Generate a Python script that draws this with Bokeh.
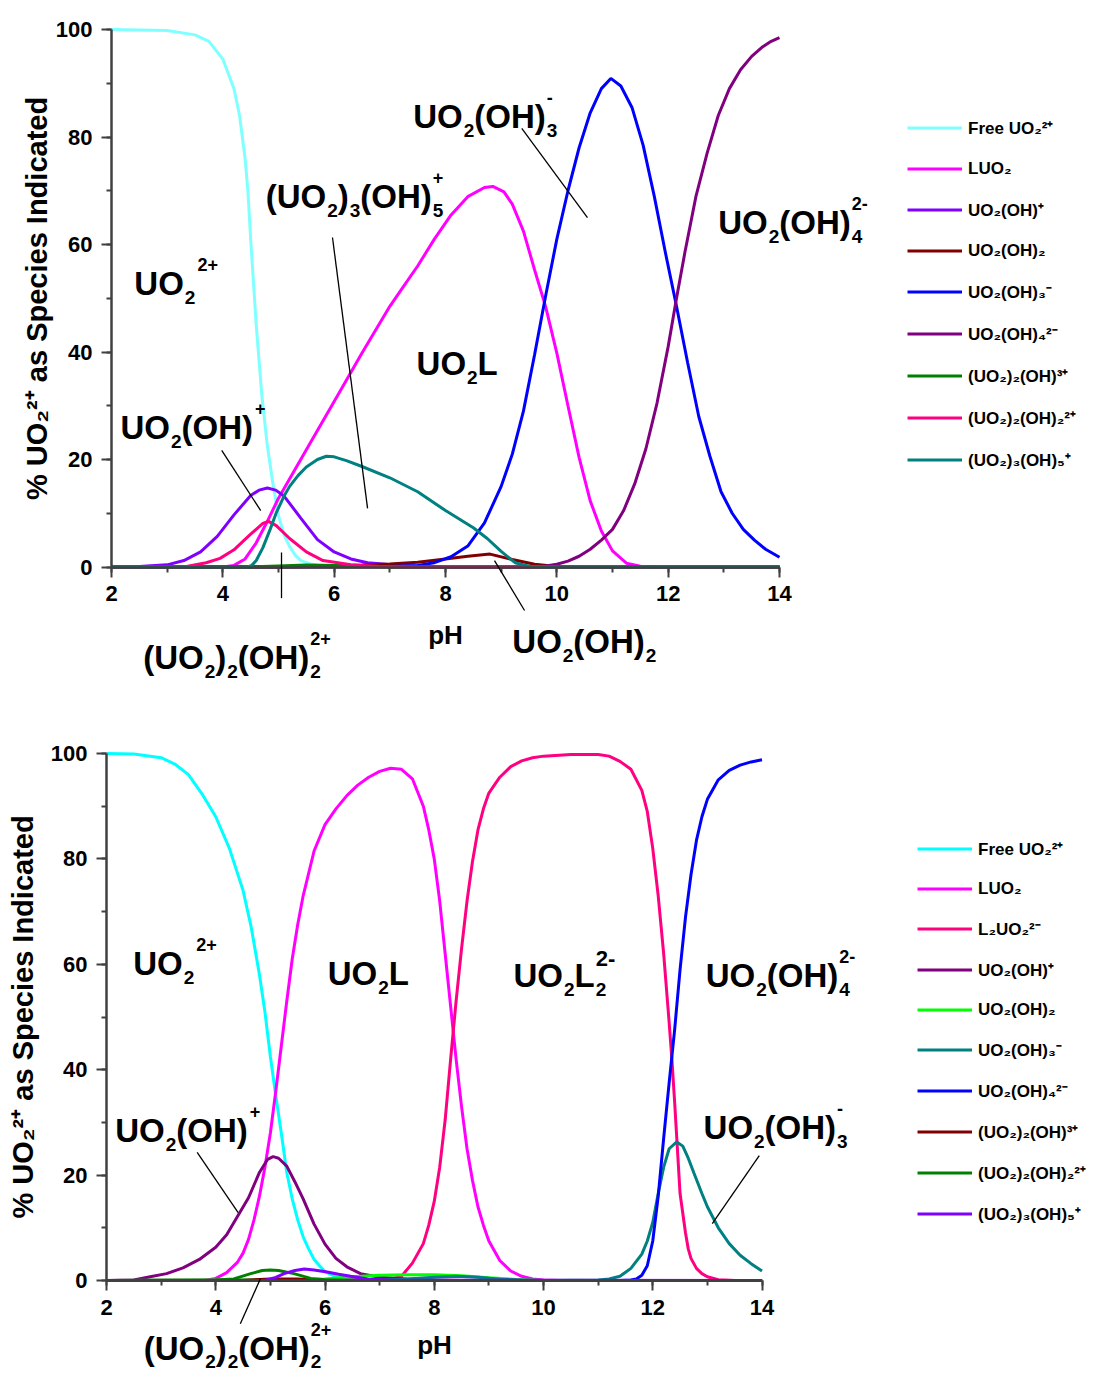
from bokeh.plotting import figure
from bokeh.models import Range1d, SingleIntervalTicker, Label, Arrow, Legend, LegendItem
from bokeh.layouts import column
from bokeh.embed import file_html
from bokeh.resources import INLINE

FONT = "Liberation Sans"

# ---------------- top chart data (pH, % UO2) ----------------
T_FREE_PH = [2.0, 3.0, 3.5, 3.75, 4.0, 4.2, 4.3, 4.4, 4.45, 4.5, 4.55, 4.6, 4.65, 4.7, 4.8, 4.9, 5.0, 5.1, 5.2, 5.3, 5.4, 5.6, 5.8, 6.0, 6.5, 14.0]
T_FREE = [100, 99.8, 99.0, 97.8, 94.5, 89.0, 84.0, 76.0, 70.0, 61.0, 53.0, 45.0, 38.5, 32.0, 22.5, 15.5, 9.5, 6.0, 3.8, 2.2, 1.2, 0.5, 0.2, 0.1, 0.0, 0.0]

T_LUO2_PH = [2.0, 4.0, 4.2, 4.4, 4.6, 4.8, 5.0, 5.5, 6.0, 6.5, 7.0, 7.2, 7.5, 7.8, 8.1, 8.4, 8.7, 8.85, 9.05, 9.2, 9.4, 9.6, 9.8, 10.0, 10.2, 10.4, 10.6, 10.8, 11.0, 11.25, 11.5, 12.0, 14.0]
T_LUO2 = [0.0, 0.0, 0.3, 1.5, 4.5, 8.5, 12.8, 21.8, 30.8, 39.8, 48.5, 51.5, 56.0, 61.0, 65.5, 68.9, 70.6, 70.8, 69.8, 67.5, 62.5, 55.3, 48.4, 39.8, 30.0, 20.4, 12.3, 6.7, 3.0, 0.7, 0.15, 0.0, 0.0]

T_OH1_PH = [2.0, 2.5, 3.0, 3.3, 3.6, 3.9, 4.2, 4.5, 4.65, 4.8, 4.95, 5.1, 5.4, 5.7, 6.0, 6.3, 6.6, 7.2, 7.6, 8.0, 14.0]
T_OH1 = [0.0, 0.1, 0.4, 1.2, 2.8, 5.7, 9.7, 13.3, 14.3, 14.7, 14.3, 13.2, 9.1, 5.1, 2.8, 1.5, 0.8, 0.3, 0.1, 0.0, 0.0]

T_OH2_PH = [2.0, 5.0, 5.5, 6.0, 6.5, 7.0, 7.5, 8.0, 8.4, 8.8, 9.2, 9.6, 10.0, 10.5, 14.0]
T_OH2 = [0.0, 0.0, 0.1, 0.2, 0.35, 0.55, 0.9, 1.5, 2.0, 2.4, 1.4, 0.5, 0.1, 0.0, 0.0]

T_OH3_PH = [2.0, 7.0, 7.5, 7.8, 8.1, 8.4, 8.7, 9.0, 9.2, 9.4, 9.6, 9.8, 10.0, 10.2, 10.4, 10.6, 10.8, 10.97, 11.15, 11.35, 11.55, 11.75, 11.95, 12.15, 12.35, 12.55, 12.75, 12.95, 13.15, 13.35, 13.55, 13.75, 14.0]
T_OH3 = [0.0, 0.1, 0.3, 0.8, 1.9, 3.9, 8.2, 15.0, 21.0, 29.0, 39.5, 50.5, 61.0, 70.0, 78.0, 84.5, 89.0, 90.9, 89.5, 85.5, 78.5, 69.0, 58.5, 48.5, 38.0, 28.0, 20.6, 14.0, 10.0, 7.0, 5.0, 3.3, 1.8]

T_OH4_PH = [2.0, 9.5, 9.8, 10.0, 10.2, 10.4, 10.6, 10.8, 11.0, 11.2, 11.4, 11.6, 11.8, 12.0, 12.15, 12.3, 12.5, 12.7, 12.9, 13.1, 13.3, 13.5, 13.7, 13.85, 14.0]
T_OH4 = [0.0, 0.0, 0.2, 0.5, 1.1, 2.0, 3.3, 5.0, 7.0, 10.5, 15.5, 22.0, 30.5, 41.0, 50.0, 58.5, 69.0, 77.0, 84.0, 89.0, 92.5, 95.0, 96.8, 97.8, 98.5]

T_OH23_PH = [2.0, 4.5, 5.0, 5.5, 6.0, 6.5, 7.0, 14.0]
T_OH23 = [0.0, 0.0, 0.2, 0.35, 0.3, 0.15, 0.0, 0.0]

T_OH22_PH = [2.0, 3.3, 3.7, 3.95, 4.2, 4.5, 4.72, 4.82, 4.96, 5.2, 5.5, 5.8, 6.3, 6.8, 7.5, 14.0]
T_OH22 = [0.0, 0.0, 0.8, 1.6, 3.2, 6.1, 8.1, 8.5, 7.7, 5.3, 2.8, 1.2, 0.4, 0.1, 0.0, 0.0]

T_OH35_PH = [2.0, 4.45, 4.52, 4.6, 4.72, 4.85, 4.96, 5.1, 5.2, 5.35, 5.5, 5.7, 5.86, 6.0, 6.22, 6.5, 7.0, 7.5, 8.0, 8.5, 8.75, 9.0, 9.25, 9.5, 9.8, 14.0]
T_OH35 = [0.0, 0.0, 0.3, 1.2, 3.6, 7.0, 10.1, 13.2, 15.0, 17.0, 18.6, 20.0, 20.6, 20.5, 19.8, 18.7, 16.6, 14.0, 10.5, 7.3, 5.3, 2.9, 0.8, 0.15, 0.0, 0.0]

# ---------------- bottom chart data (pH, % UO2) ----------------
B_FREE_PH = [2.0, 2.5, 3.0, 3.25, 3.5, 3.75, 4.0, 4.25, 4.5, 4.65, 4.8, 4.9, 5.0, 5.1, 5.2, 5.3, 5.4, 5.5, 5.6, 5.7, 5.8, 5.9, 6.0, 6.2, 6.4, 6.8, 14.0]
B_FREE = [100, 99.9, 99.2, 98.0, 96.0, 92.3, 88.0, 82.0, 74.0, 67.0, 58.0, 51.0, 42.5, 35.0, 28.0, 20.5, 15.5, 11.5, 8.3, 6.0, 4.0, 2.8, 1.7, 0.7, 0.3, 0.0, 0.0]

B_LUO2_PH = [2.0, 3.8, 4.0, 4.2, 4.4, 4.5, 4.6, 4.7, 4.8, 4.9, 5.0, 5.1, 5.2, 5.3, 5.4, 5.5, 5.6, 5.8, 6.0, 6.2, 6.4, 6.6, 6.8, 7.0, 7.2, 7.4, 7.6, 7.8, 7.9, 8.0, 8.1, 8.2, 8.3, 8.4, 8.5, 8.6, 8.7, 8.8, 8.9, 9.0, 9.2, 9.4, 9.6, 9.8, 10.0, 10.3, 14.0]
B_LUO2 = [0.0, 0.0, 0.4, 1.5, 3.5, 5.2, 7.8, 11.5, 16.0, 21.5, 28.0, 36.0, 44.5, 53.0, 61.0, 67.5, 73.0, 81.5, 86.5, 89.5, 92.0, 94.0, 95.5, 96.6, 97.2, 97.0, 95.2, 90.0, 85.5, 80.0, 72.0, 62.0, 52.0, 42.0, 33.0, 25.0, 19.0, 14.0, 10.5, 7.5, 3.8, 1.8, 0.8, 0.3, 0.1, 0.0, 0.0]

B_L2UO2_PH = [2.0, 7.2, 7.4, 7.6, 7.8, 7.9, 8.0, 8.1, 8.2, 8.3, 8.4, 8.5, 8.6, 8.7, 8.8, 8.9, 9.0, 9.2, 9.4, 9.6, 9.8, 10.0, 10.5, 11.0, 11.2, 11.4, 11.6, 11.8, 11.9, 12.0, 12.1, 12.2, 12.3, 12.35, 12.4, 12.5, 12.6, 12.65, 12.7, 12.8, 12.9, 13.0, 13.2, 13.5, 14.0]
B_L2UO2 = [0.0, 0.2, 0.8, 3.3, 7.0, 10.5, 15.0, 21.5, 30.5, 42.0, 53.0, 63.0, 72.0, 79.5, 85.5, 89.5, 92.5, 95.5, 97.5, 98.6, 99.2, 99.5, 99.8, 99.8, 99.5, 98.5, 97.0, 93.0, 89.0, 82.0, 73.0, 62.0, 49.0, 42.0, 34.0, 16.5, 9.0, 6.0, 4.2, 2.3, 1.3, 0.7, 0.15, 0.0, 0.0]

B_OH1_PH = [2.0, 2.5, 2.8, 3.1, 3.4, 3.7, 4.0, 4.2, 4.4, 4.6, 4.8, 4.95, 5.05, 5.15, 5.3, 5.45, 5.6, 5.8, 6.0, 6.2, 6.4, 6.65, 7.0, 7.5, 8.0, 8.5, 14.0]
B_OH1 = [0.0, 0.1, 0.7, 1.3, 2.4, 4.0, 6.3, 8.7, 12.2, 15.7, 20.5, 23.0, 23.5, 23.2, 21.7, 18.7, 15.5, 10.7, 6.9, 4.2, 2.6, 1.3, 0.6, 0.3, 0.1, 0.0, 0.0]

B_OH2_PH = [2.0, 5.5, 6.0, 6.5, 7.0, 7.5, 8.0, 8.5, 9.0, 9.5, 10.0, 14.0]
B_OH2 = [0.0, 0.1, 0.3, 0.7, 1.0, 1.1, 1.1, 0.9, 0.5, 0.2, 0.0, 0.0]

B_OH3_PH = [2.0, 7.0, 7.5, 8.0, 8.4, 8.8, 9.2, 9.6, 10.0, 11.0, 11.2, 11.4, 11.6, 11.8, 11.9, 12.0, 12.1, 12.2, 12.3, 12.44, 12.55, 12.65, 12.75, 12.9, 13.0, 13.2, 13.4, 13.6, 13.8, 14.0]
B_OH3 = [0.0, 0.05, 0.3, 0.6, 0.8, 0.6, 0.25, 0.08, 0.02, 0.1, 0.3, 0.8, 2.3, 5.0, 7.5, 11.0, 16.5, 21.5, 25.0, 26.3, 25.5, 23.2, 20.5, 16.5, 14.0, 10.0, 7.0, 4.8, 3.2, 1.8]

B_OH4_PH = [2.0, 11.4, 11.6, 11.7, 11.8, 11.9, 12.0, 12.1, 12.2, 12.3, 12.4, 12.5, 12.6, 12.7, 12.8, 12.9, 13.0, 13.2, 13.4, 13.6, 13.8, 14.0]
B_OH4 = [0.0, 0.0, 0.1, 0.3, 1.0, 2.8, 7.5, 16.0, 27.0, 37.5, 47.5, 59.0, 69.0, 77.0, 83.5, 88.0, 91.3, 95.0, 96.8, 97.8, 98.4, 98.8]

B_OH23_PH = [2.0, 4.5, 5.0, 5.5, 6.0, 14.0]
B_OH23 = [0.0, 0.0, 0.3, 0.3, 0.0, 0.0]

B_OH22_PH = [2.0, 4.0, 4.33, 4.64, 4.85, 5.0, 5.15, 5.43, 5.74, 6.0, 6.5, 14.0]
B_OH22 = [0.0, 0.1, 0.3, 1.3, 1.9, 2.0, 1.9, 1.3, 0.4, 0.15, 0.0, 0.0]

B_OH35_PH = [2.0, 4.9, 5.1, 5.25, 5.45, 5.62, 5.8, 6.04, 6.25, 6.47, 6.78, 7.2, 14.0]
B_OH35 = [0.0, 0.0, 0.6, 1.3, 1.9, 2.2, 2.0, 1.6, 1.2, 0.8, 0.3, 0.05, 0.0]

TOP_SERIES = [
    ("Free UO₂²⁺", T_FREE_PH, T_FREE, "#80ffff"),
    ("LUO₂", T_LUO2_PH, T_LUO2, "#ff00ff"),
    ("UO₂(OH)⁺", T_OH1_PH, T_OH1, "#8000ff"),
    ("UO₂(OH)₂", T_OH2_PH, T_OH2, "#800000"),
    ("UO₂(OH)₃⁻", T_OH3_PH, T_OH3, "#0000ff"),
    ("UO₂(OH)₄²⁻", T_OH4_PH, T_OH4, "#800080"),
    ("(UO₂)₂(OH)³⁺", T_OH23_PH, T_OH23, "#008000"),
    ("(UO₂)₂(OH)₂²⁺", T_OH22_PH, T_OH22, "#ff0080"),
    ("(UO₂)₃(OH)₅⁺", T_OH35_PH, T_OH35, "#008080"),
]

BOTTOM_SERIES = [
    ("Free UO₂²⁺", B_FREE_PH, B_FREE, "#00ffff"),
    ("LUO₂", B_LUO2_PH, B_LUO2, "#ff00ff"),
    ("L₂UO₂²⁻", B_L2UO2_PH, B_L2UO2, "#ff0080"),
    ("UO₂(OH)⁺", B_OH1_PH, B_OH1, "#800080"),
    ("UO₂(OH)₂", B_OH2_PH, B_OH2, "#00ff00"),
    ("UO₂(OH)₃⁻", B_OH3_PH, B_OH3, "#008080"),
    ("UO₂(OH)₄²⁻", B_OH4_PH, B_OH4, "#0000ff"),
    ("(UO₂)₂(OH)³⁺", B_OH23_PH, B_OH23, "#800000"),
    ("(UO₂)₂(OH)₂²⁺", B_OH22_PH, B_OH22, "#008000"),
    ("(UO₂)₃(OH)₅⁺", B_OH35_PH, B_OH35, "#8000ff"),
]

# Arial/Liberation Sans Bold advance widths (em)
ADV = {"U": 0.722, "O": 0.778, "H": 0.722, "L": 0.611, "(": 0.333, ")": 0.333,
       "+": 0.584, "-": 0.333, " ": 0.278}


def text_width(s, size):
    return sum(ADV.get(ch, 0.556) for ch in s) * size


def formula(p, x, y, parts, size=33, sub_size=19, sup_size=18, drop=14, rise=19):
    cur = 0.0
    sub_start = None
    for txt, kind in parts:
        if kind == "n":
            dx, dy, fs = cur, 0, size
            cur += text_width(txt, size)
            sub_start = None
        elif kind == "b":
            dx, dy, fs = cur + 1, -drop, sub_size
            sub_start = dx
            cur = dx + text_width(txt, sub_size)
        else:
            dx = sub_start if (kind == "p" and sub_start is not None) else cur + 2
            dy, fs = rise, sup_size
            cur = max(cur, dx + text_width(txt, sup_size))
        p.add_layout(Label(x=x, y=y, x_offset=dx, y_offset=dy, text=txt,
                           text_font=FONT, text_font_style="bold",
                           text_font_size=f"{fs}px", text_color="black",
                           text_align="left", text_baseline="alphabetic"))


def pointer(p, x0, y0, x1, y1):
    p.add_layout(Arrow(x_start=x0, y_start=y0, x_end=x1, y_end=y1, end=None,
                       line_color="black", line_width=1.3))


def make_fig(W, H, x2px, x14px, y100px, y0px, xlab_standoff, ylab_standoff):
    # the plotting frame fills the whole canvas; axes sit at fixed data locations
    kx = (x14px - x2px) / 12.0
    ky = (y0px - y100px) / 100.0
    p = figure(width=W, height=H, min_border=0, min_border_left=0, min_border_right=0,
               min_border_top=0, min_border_bottom=0,
               x_range=Range1d(2 - x2px / kx, 14 + (W - x14px) / kx),
               y_range=Range1d(-(H - y0px) / ky, 100 + y100px / ky),
               output_backend="svg", toolbar_location=None)
    p.outline_line_color = None
    p.xgrid.visible = False
    p.ygrid.visible = False
    p.background_fill_color = "white"
    p.border_fill_color = "white"
    p.xaxis.ticker = SingleIntervalTicker(interval=2, num_minor_ticks=2)
    p.yaxis.ticker = SingleIntervalTicker(interval=20, num_minor_ticks=2)
    p.xaxis.fixed_location = 0
    p.yaxis.fixed_location = 2
    p.xaxis.bounds = (2, 14)
    p.yaxis.bounds = (0, 100)
    for ax in (p.xaxis, p.yaxis):
        ax.axis_line_color = "#404040"
        ax.axis_line_width = 2.5
        ax.major_tick_line_color = "#404040"
        ax.minor_tick_line_color = "#404040"
        ax.major_tick_line_width = 2
        ax.minor_tick_line_width = 2
        ax.major_tick_in = 0
        ax.major_tick_out = 10
        ax.minor_tick_in = 0
        ax.minor_tick_out = 5
        ax.major_label_text_font = FONT
        ax.major_label_text_font_style = "bold"
        ax.major_label_text_font_size = "22px"
        ax.major_label_text_color = "black"
        ax.axis_label_text_font = FONT
        ax.axis_label_text_font_style = "bold"
        ax.axis_label_text_color = "black"
    p.xaxis.major_label_standoff = 9
    p.yaxis.major_label_standoff = 9
    p.xaxis.axis_label = "pH"
    p.xaxis.axis_label_text_font_size = "26px"
    p.xaxis.axis_label_standoff = xlab_standoff
    p.yaxis.axis_label = "% UO₂²⁺ as Species Indicated"
    p.yaxis.axis_label_text_font_size = "29px"
    p.yaxis.axis_label_standoff = ylab_standoff
    return p


def add_series(p, series, loc, spacing):
    items = []
    for name, xs, ys, color in series:
        r = p.line(xs, ys, line_color=color, line_width=3)
        items.append(LegendItem(label=name, renderers=[r]))
    leg = Legend(items=items, location=loc, orientation="vertical",
                 glyph_width=55, glyph_height=21, label_height=21, spacing=spacing,
                 padding=0, margin=0, border_line_color=None,
                 background_fill_alpha=0, label_standoff=6,
                 label_text_font=FONT, label_text_font_style="bold",
                 label_text_font_size="17px", label_text_color="black")
    p.add_layout(leg)


# ---------------- top chart ----------------
p1 = make_fig(1104, 688, 111, 779, 29, 566.5, 15, 0)
add_series(p1, TOP_SERIES, (907, 217), 19)

formula(p1, 2.41, 52.7, [("UO", "n"), ("2", "b"), ("2+", "P")])
formula(p1, 4.77, 68.9, [("(UO", "n"), ("2", "b"), (")", "n"), ("3", "b"), ("(OH)", "n"), ("5", "b"), ("+", "p")])
formula(p1, 7.42, 83.9, [("UO", "n"), ("2", "b"), ("(OH)", "n"), ("3", "b"), ("-", "p")])
formula(p1, 12.9, 64.1, [("UO", "n"), ("2", "b"), ("(OH)", "n"), ("4", "b"), ("2-", "p")])
formula(p1, 7.48, 37.9, [("UO", "n"), ("2", "b"), ("L", "n")])
formula(p1, 2.16, 26.0, [("UO", "n"), ("2", "b"), ("(OH)", "n"), ("+", "P")])
formula(p1, 2.57, -16.8, [("(UO", "n"), ("2", "b"), (")", "n"), ("2", "b"), ("(OH)", "n"), ("2", "b"), ("2+", "p")])
formula(p1, 9.2, -13.9, [("UO", "n"), ("2", "b"), ("(OH)", "n"), ("2", "b")])

pointer(p1, 3.98, 21.7, 4.68, 10.5)
pointer(p1, 5.97, 61.3, 6.60, 10.9)
pointer(p1, 9.37, 81.6, 10.55, 65.0)
pointer(p1, 8.88, 1.2, 9.42, -8.1)
pointer(p1, 5.054, 2.7, 5.054, -5.8)

# ---------------- bottom chart (canvas starts at page y 688) ----------------
p2 = make_fig(1104, 684, 106, 761.5, 65, 592, 12, 9)
add_series(p2, BOTTOM_SERIES, (917, 147), 18)

formula(p2, 2.49, 60.2, [("UO", "n"), ("2", "b"), ("2+", "P")])
formula(p2, 6.05, 58.3, [("UO", "n"), ("2", "b"), ("L", "n")])
formula(p2, 9.45, 57.9, [("UO", "n"), ("2", "b"), ("L", "n"), ("2", "b"), ("2-", "p")], sup_size=22, rise=17)
formula(p2, 12.97, 57.9, [("UO", "n"), ("2", "b"), ("(OH)", "n"), ("4", "b"), ("2-", "p")])
formula(p2, 12.93, 29.0, [("UO", "n"), ("2", "b"), ("(OH)", "n"), ("3", "b"), ("-", "p")])
formula(p2, 2.16, 28.5, [("UO", "n"), ("2", "b"), ("(OH)", "n"), ("+", "P")])
formula(p2, 2.68, -12.9, [("(UO", "n"), ("2", "b"), (")", "n"), ("2", "b"), ("(OH)", "n"), ("2", "b"), ("2+", "p")], drop=13)

pointer(p2, 3.66, 24.3, 4.41, 12.9)
pointer(p2, 4.45, -8.2, 4.82, 0.4)
pointer(p2, 13.95, 23.7, 13.09, 10.8)

layout = column(p1, p2)
open("out.html", "w").write(file_html(layout, INLINE))
